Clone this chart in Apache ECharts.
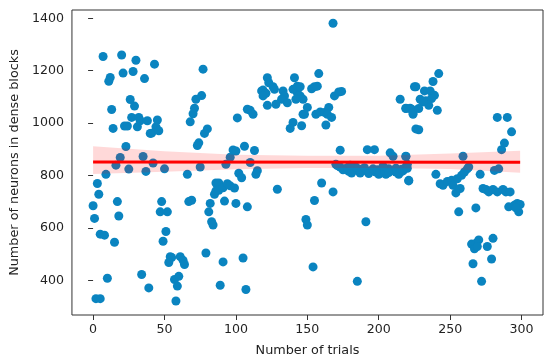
<!DOCTYPE html>
<html>
<head>
<meta charset="utf-8">
<script src="https://cdn.jsdelivr.net/npm/echarts@6/dist/echarts.min.js"></script>
<style>html,body{margin:0;padding:0;background:#fff;}#c{width:550px;height:362px;}</style>
</head>
<body>
<div id="c"></div>
<script>
// x values (trial index) and y values (neurons in dense blocks)
const trials = [
2,5,0,1,3,4,5,8,9,7,12,11,13,14,10,15,17,18,16,19,23,20,21,28,30,36,43,26,29,27,22,24,31,32,33,38,45,40,41,44,46,25,35,37,42,50,48,47,52,51,49,34,39,54,55,53,61,63,64,57,60,59,58,
77,76,72,71,70,68,80,78,74,73,75,66,67,69,79,91,105,89,107,82,81,83,84,
86,88,85,86,88,91,94,96,99,92,100,108,
93,96,98,100,106,113,110,102,104,115,114,129,101,108,110,112,
122,123,118,119,121,126,127,119,133,134,132,128,122,136,141,143,145,140,138,146,147,
168,140,143,145,144,147,142,153,155,157,158,
150,148,156,159,162,165,164,167,163,
169,172,174,
173,192,197,208,210,219,
170,173,177,179,182,186,188,192,195,198,200,202,205,207,209,212,214,216,219,220,
171,175,178,181,184,187,190,193,196,199,201,204,207,212,215,217,203,180,
221,160,168,155,149,150,191,154,185,
225,215,219,223,224,226,
242,238,226,232,236,239,229,233,237,235,231,
219,222,224,228,241,228,
219,220,221,
240,243,245,248,251,252,254,257,255,258,260,262,263,259,271,281,284,256,268,
286,288,293,283,290,
273,275,277,280,283,287,289,292,
291,295,297,299,298,296,
265,268,267,270,269,276,280,266,279,272
];
const neurons = [
331,331,685,637,770,729,577,573,805,1254,1174,1160,1052,980,409,546,701,646,840,869,911,1260,1191,1197,1240,1170,1225,1090,1065,1022,989,989,986,1022,1009,1009,1012,961,962,986,971,825,873,816,848,826,701,662,662,587,550,423,372,491,488,469,491,477,461,404,416,379,322,
1206,1105,1091,1057,1036,1005,978,961,925,915,833,805,701,706,505,471,486,382,366,694,662,624,612,
772,772,729,742,744,754,769,761,753,703,694,681,
843,870,898,894,912,896,850,809,792,819,805,748,1020,1053,1049,1034,
1173,1154,1123,1126,1114,1139,1129,1104,1123,1104,1091,1072,1068,1078,1173,1116,1104,1003,980,990,1034,
1381,1129,1141,1139,1104,1091,1091,1131,1139,1141,1189,
1060,1034,1034,1043,1041,1060,1034,1022,993,
1104,1119,1121,
897,899,899,887,874,874,
843,833,826,816,824,816,824,816,820,814,805,811,805,826,820,814,805,824,833,843,
838,822,830,810,833,810,830,808,826,822,815,820,812,828,813,818,836,840,
782,772,738,705,633,612,624,452,397,
1139,1091,1056,1053,1034,978,
1189,1159,1139,1123,1123,1106,1091,1085,1094,1068,1081,
1057,1057,1041,1056,1049,975,
873,828,780,
805,769,763,778,782,763,734,751,788,801,814,826,833,874,805,820,826,662,677,
899,924,967,1022,1022,
751,747,738,747,738,747,738,738,
681,687,694,690,662,677,
539,542,521,555,530,530,561,464,482,397
];
// regression line and its confidence band
const fitX = [0, 299];
const fitY = [852, 851];
const bandX = [0, 50, 100, 150, 200, 250, 299];
const bandUpper = [912, 893, 880, 876, 876, 884, 895];
const bandLower = [806, 815, 824, 829, 829, 825, 811];
// tick labels
const xTicks = [0, 50, 100, 150, 200, 250, 300];
const yTicks = [400, 600, 800, 1000, 1200, 1400];

const points = trials.map((t, i) => [t, neurons[i]]);
const fitData = fitX.map((x, i) => [x, fitY[i]]);

const font = 'DejaVu Sans';
const chart = echarts.init(document.getElementById('c'), null, {renderer: 'canvas'});
chart.setOption({
  animation: false,
  backgroundColor: '#fff',
  grid: {left: 68, right: 7, top: 10, bottom: 45, show: true, borderColor: '#333', borderWidth: 1, backgroundColor: 'transparent'},
  xAxis: {
    type: 'value', min: -14.8, max: 315,
    name: 'Number of trials', nameLocation: 'middle', nameGap: 29,
    nameTextStyle: {fontFamily: font, fontSize: 12.8, color: '#222'},
    axisLine: {show: false},
    splitLine: {show: false},
    axisTick: {show: true, length: 5, customValues: xTicks, lineStyle: {color: '#333'}},
    axisLabel: {customValues: xTicks, fontFamily: font, fontSize: 12.6, color: '#222', margin: 8, formatter: v => String(v)}
  },
  yAxis: {
    type: 'value', min: 268.7, max: 1431.4,
    name: 'Number of neurons in dense blocks', nameLocation: 'middle', nameGap: 46, nameRotate: 90,
    nameTextStyle: {fontFamily: font, fontSize: 12.8, color: '#222'},
    axisLine: {show: false},
    splitLine: {show: false},
    axisTick: {show: true, length: 5, customValues: yTicks, lineStyle: {color: '#333'}},
    axisLabel: {customValues: yTicks, fontFamily: font, fontSize: 12.6, color: '#222', margin: 8, formatter: v => String(v)}
  },
  series: [
    {type: 'scatter', data: points, symbolSize: 9, itemStyle: {color: '#0a84c0', opacity: 1}, z: 2},
    {type: 'custom', data: [0], z: 3, silent: true,
     renderItem: function (params, api) {
       const up = bandX.map((x, i) => api.coord([x, bandUpper[i]]));
       const lo = bandX.map((x, i) => api.coord([x, bandLower[i]])).reverse();
       return {type: 'polygon', shape: {points: up.concat(lo)}, style: {fill: 'rgba(255,0,0,0.15)', stroke: null}};
     }},
    {type: 'line', data: fitData, symbol: 'none', lineStyle: {color: '#ff0000', width: 3}, z: 4, silent: true}
  ]
});
</script>
</body>
</html>
